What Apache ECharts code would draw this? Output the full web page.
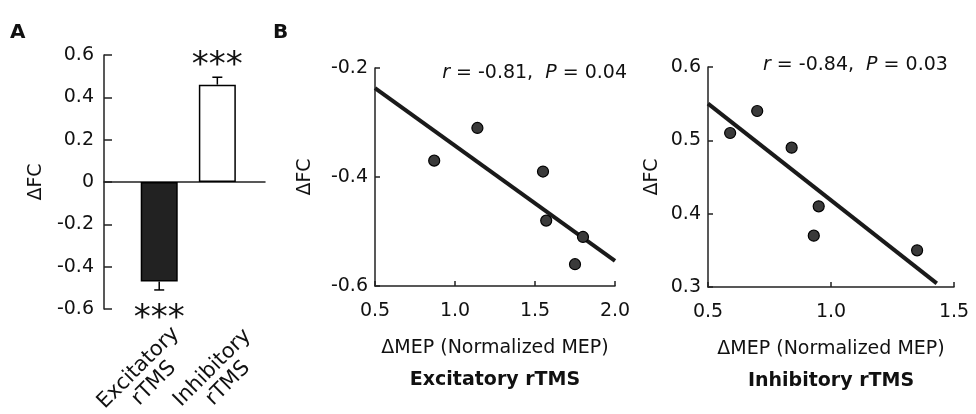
<!DOCTYPE html>
<html>
<head>
<meta charset="utf-8">
<script src="https://cdn.jsdelivr.net/npm/echarts@6/dist/echarts.min.js"></script>
<style>
html, body { margin: 0; padding: 0; background: #fff; }
#main { width: 976px; height: 414px; }
</style>
</head>
<body>
<div id="main"></div>
<script>
// panel A : mean change of FC
var barNames = ['Excitatory\nrTMS', 'Inhibitory\nrTMS'];
var barMeans = [-0.47, 0.46];
var barErrs = [0.04, 0.035];
var barStars = ['***', '***'];

// panel B : excitatory rTMS
var excX = [0.87, 1.14, 1.55, 1.57, 1.80, 1.75];
var excY = [-0.37, -0.31, -0.39, -0.48, -0.51, -0.56];
var excFitX = [0.5, 2.0];
var excFitY = [-0.237, -0.554];
var excStat = ['-0.81', '0.04'];

// panel B : inhibitory rTMS
var inhX = [0.59, 0.70, 0.84, 0.95, 0.93, 1.35];
var inhY = [0.51, 0.54, 0.49, 0.41, 0.37, 0.35];
var inhFitX = [0.5, 1.43];
var inhFitY = [0.55, 0.305];
var inhStat = ['-0.84', '0.03'];

var FONT = '"DejaVu Sans", sans-serif';
var INK = '#111';

function pairs(xs, ys) {
	var out = [];
	for (var i = 0; i < xs.length; i++) out.push([xs[i], ys[i]]);
	return out;
}

// text of the stat line, r and P in italic
function statText(s) {
	return '{i|r}{t| = ' + s[0] + ',  }{i|P}{t| = ' + s[1] + '}';
}
var statRich = {
	i: { fontFamily: FONT, fontSize: 19, fontStyle: 'italic', fontWeight: 'normal', color: INK },
	t: { fontFamily: FONT, fontSize: 19, fontWeight: 'normal', color: INK }
};

function yAxisB(idx, min, max, step, gap) {
	return {
		type: 'value', gridIndex: idx, min: min, max: max, interval: step,
		name: 'ΔFC', nameLocation: 'middle', nameGap: gap,
		nameTextStyle: { fontFamily: FONT, fontSize: 19, color: INK },
		axisLine: { show: true, lineStyle: { color: '#222', width: 1.5 } },
		axisTick: { show: true, inside: true, length: 5, lineStyle: { color: '#222', width: 1.5 } },
		axisLabel: { fontFamily: FONT, fontSize: 19, color: INK, margin: 7,
			formatter: function (v) { return v.toFixed(1); } },
		splitLine: { show: false }
	};
}

function xAxisB(idx, min, max, title) {
	return {
		type: 'value', gridIndex: idx, min: min, max: max, interval: 0.5,
		name: '{n|ΔMEP (Normalized MEP)}\n{b|' + title + '}',
		nameLocation: 'middle', nameGap: 46,
		nameTextStyle: {
			rich: {
				n: { fontFamily: FONT, fontSize: 19, color: INK, lineHeight: 32 },
				b: { fontFamily: FONT, fontSize: 19, fontWeight: 'bold', color: INK, lineHeight: 32 }
			}
		},
		axisLine: { show: true, lineStyle: { color: '#222', width: 1.5 } },
		axisTick: { show: true, inside: true, length: 5, lineStyle: { color: '#222', width: 1.5 } },
		axisLabel: { fontFamily: FONT, fontSize: 19, color: INK, margin: 16,
			formatter: function (v) { return v.toFixed(1); } },
		splitLine: { show: false }
	};
}

var barData = [];
var errData = [];
for (var i = 0; i < barMeans.length; i++) {
	var neg = barMeans[i] < 0;
	barData.push({
		value: [i + 1, barMeans[i]],
		itemStyle: { color: neg ? '#222' : '#fff' },
		label: { position: neg ? 'bottom' : 'top', distance: neg ? 21 : 1 }
	});
	errData.push([i + 1, barMeans[i], barErrs[i]]);
}

var option = {
	animation: false,
	backgroundColor: '#fff',
	title: [
		{ text: 'A', left: 10, top: 23, padding: 0,
			textStyle: { fontFamily: FONT, fontSize: 20, fontWeight: 'bold', color: INK } },
		{ text: 'B', left: 273, top: 23, padding: 0,
			textStyle: { fontFamily: FONT, fontSize: 20, fontWeight: 'bold', color: INK } },
		{ text: statText(excStat), right: 349, top: 64, padding: 0,
			textStyle: { rich: statRich } },
		{ text: statText(inhStat), left: 763, top: 56, padding: 0,
			textStyle: { rich: statRich } }
	],
	grid: [
		{ left: 104, right: 711, top: 55, bottom: 105, outerBoundsMode: 'none' },   // bars
		{ left: 146, width: 148, top: 55, bottom: 105, outerBoundsMode: 'none' },   // bar category labels
		{ left: 375, right: 361, top: 68, bottom: 128, outerBoundsMode: 'none' },   // excitatory scatter
		{ left: 708, right: 22, top: 67, bottom: 127, outerBoundsMode: 'none' }     // inhibitory scatter
	],
	xAxis: [
		{ type: 'value', gridIndex: 0, min: 0.05, max: 2.82,
			axisLine: { show: true, onZero: true, lineStyle: { color: '#222', width: 1.5 } },
			axisTick: { show: false }, axisLabel: { show: false }, splitLine: { show: false } },
		{ type: 'category', gridIndex: 1, data: barNames,
			axisLine: { show: false }, axisTick: { show: false },
			axisLabel: { rotate: 45, margin: 30, interval: 0,
				formatter: function (v) {
					return v.split('\n').map(function (s) { return '{c|' + s + '}'; }).join('\n');
				},
				rich: { c: { fontFamily: FONT, fontSize: 21, color: INK, width: 104, align: 'center', lineHeight: 22 } }
			} },
		xAxisB(2, 0.5, 2.0, 'Excitatory rTMS'),
		xAxisB(3, 0.5, 1.5, 'Inhibitory rTMS')
	],
	yAxis: [
		{ type: 'value', gridIndex: 0, min: -0.6, max: 0.6, interval: 0.2,
			name: 'ΔFC', nameLocation: 'middle', nameGap: 58,
			nameTextStyle: { fontFamily: FONT, fontSize: 19, color: INK },
			axisLine: { show: true, lineStyle: { color: '#222', width: 1.5 } },
			axisTick: { show: true, inside: true, length: 8, lineStyle: { color: '#222', width: 1.5 } },
			axisLabel: { fontFamily: FONT, fontSize: 19, color: INK, margin: 10,
				formatter: function (v) { return v === 0 ? '0' : v.toFixed(1); } },
			splitLine: { show: false } },
		{ type: 'value', gridIndex: 1, min: -0.6, max: 0.6, show: false },
		yAxisB(2, -0.6, -0.2, 0.2, 60),
		yAxisB(3, 0.3, 0.6, 0.1, 46)
	],
	series: [
		{ type: 'bar', xAxisIndex: 0, yAxisIndex: 0, barWidth: 37, data: barData,
			itemStyle: { borderColor: '#000', borderWidth: 1.5 },
			label: { show: true, fontFamily: FONT, fontSize: 34, color: INK,
				formatter: function (p) { return barStars[p.dataIndex]; } } },
		{ type: 'custom', xAxisIndex: 0, yAxisIndex: 0, data: errData,
			renderItem: function (params, api) {
				var m = api.value(1), e = api.value(2);
				var p0 = api.coord([api.value(0), m]);
				var p1 = api.coord([api.value(0), m < 0 ? m - e : m + e]);
				var st = { stroke: '#000', lineWidth: 1.5 };
				return { type: 'group', children: [
					{ type: 'line', shape: { x1: p0[0], y1: p0[1], x2: p1[0], y2: p1[1] }, style: st },
					{ type: 'line', shape: { x1: p1[0] - 5, y1: p1[1], x2: p1[0] + 5, y2: p1[1] }, style: st }
				] };
			} },
		{ type: 'line', xAxisIndex: 2, yAxisIndex: 2, data: pairs(excFitX, excFitY),
			symbol: 'none', lineStyle: { color: '#1a1a1a', width: 4 }, z: 3 },
		{ type: 'scatter', xAxisIndex: 2, yAxisIndex: 2, data: pairs(excX, excY),
			symbolSize: 11, itemStyle: { color: '#3a3a3a', borderColor: '#000', borderWidth: 1.2, opacity: 1 }, z: 4 },
		{ type: 'line', xAxisIndex: 3, yAxisIndex: 3, data: pairs(inhFitX, inhFitY),
			symbol: 'none', lineStyle: { color: '#1a1a1a', width: 4 }, z: 3 },
		{ type: 'scatter', xAxisIndex: 3, yAxisIndex: 3, data: pairs(inhX, inhY),
			symbolSize: 11, itemStyle: { color: '#3a3a3a', borderColor: '#000', borderWidth: 1.2, opacity: 1 }, z: 4 }
	]
};

echarts.init(document.getElementById('main')).setOption(option);
</script>
</body>
</html>
